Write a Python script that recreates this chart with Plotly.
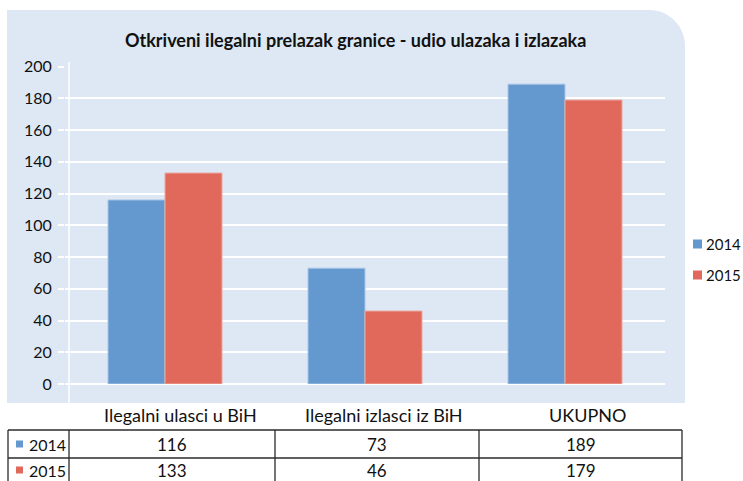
import plotly.graph_objects as go

# ---- data ----
categories = ["Ilegalni ulasci u BiH", "Ilegalni izlasci iz BiH", "UKUPNO"]
series_names = ["2014", "2015"]
values_2014 = [116, 73, 189]
values_2015 = [133, 46, 179]
y_ticks = [0, 20, 40, 60, 80, 100, 120, 140, 160, 180, 200]
title_text = "Otkriveni ilegalni prelazak granice - udio ulazaka i izlazaka"

# ---- styling ----
W, H = 743, 481
BLUE = "#6499D0"
RED = "#E0695C"
PANEL = "#DDE8F4"
FONT = "Lato"
TXT = "#111111"


def px(x):
    return x / W


def py(y):
    return 1 - y / H


fig = go.Figure()
colors = [BLUE, RED]
edge = ["#A9C5E6", "#EBA9A2"]
for name, vals, c, e in zip(series_names, [values_2014, values_2015], colors, edge):
    fig.add_trace(go.Bar(
        x=categories, y=vals, name=name,
        marker=dict(color=c, line=dict(color=e, width=1)),
        showlegend=False, hoverinfo="x+y+name",
    ))

shapes = []
# panel with rounded top-right corner
L, T, R, B, r = 7, 10, 685, 403, 36
k = 0.5523 * r
path = (f"M {px(L)},{py(B)} L {px(L)},{py(T)} L {px(R - r)},{py(T)} "
        f"C {px(R - r + k)},{py(T)} {px(R)},{py(T + r - k)} {px(R)},{py(T + r)} "
        f"L {px(R)},{py(B)} Z")
shapes.append(dict(type="path", path=path, xref="paper", yref="paper",
                   fillcolor=PANEL, line=dict(width=0), layer="below"))
# white vertical axis line
shapes.append(dict(type="line", xref="paper", yref="paper",
                   x0=px(69), x1=px(69), y0=py(62), y1=py(B),
                   line=dict(color="white", width=1.5), layer="below"))

# table grid
tbl_top, tbl_mid, tbl_bot = 430, 458, 486
col_x = [8, 69, 275, 479, 682]
line_style = dict(color="#2b2b2b", width=1.3)
for yy in (tbl_top, tbl_mid):
    shapes.append(dict(type="line", xref="paper", yref="paper",
                       x0=px(col_x[0]), x1=px(col_x[-1]), y0=py(yy), y1=py(yy),
                       line=line_style))
for xx in col_x:
    shapes.append(dict(type="line", xref="paper", yref="paper",
                       x0=px(xx), x1=px(xx), y0=py(tbl_top), y1=py(tbl_bot),
                       line=line_style))

annotations = []
# category labels above the table
cat_centers = [180, 384, 587]
for cat, cx in zip(categories, cat_centers):
    annotations.append(dict(text=cat, x=px(cx), y=py(415), xref="paper", yref="paper",
                            showarrow=False, xanchor="center", yanchor="middle",
                            font=dict(family=FONT, size=18, color=TXT)))

# table rows
row_centers = [444, 470]
for name, vals, c, ry in zip(series_names, [values_2014, values_2015], colors, row_centers):
    shapes.append(dict(type="rect", xref="paper", yref="paper",
                       x0=px(16), x1=px(23), y0=py(ry - 3.5), y1=py(ry + 3.5),
                       fillcolor=c, line=dict(width=0)))
    annotations.append(dict(text=name, x=px(27), y=py(ry), xref="paper", yref="paper",
                            showarrow=False, xanchor="left", yanchor="middle",
                            font=dict(family=FONT, size=16, color=TXT)))
    for i, v in enumerate(vals):
        cx = (col_x[i + 1] + col_x[i + 2]) / 2
        annotations.append(dict(text=str(v), x=px(cx), y=py(ry), xref="paper", yref="paper",
                                showarrow=False, xanchor="center", yanchor="middle",
                                font=dict(family=FONT, size=17, color=TXT)))

# legend (right side)
for name, c, ly in zip(series_names, colors, [244, 275]):
    shapes.append(dict(type="rect", xref="paper", yref="paper",
                       x0=px(693), x1=px(702), y0=py(ly - 4.5), y1=py(ly + 4.5),
                       fillcolor=c, line=dict(width=0)))
    annotations.append(dict(text=name, x=px(704), y=py(ly), xref="paper", yref="paper",
                            showarrow=False, xanchor="left", yanchor="middle",
                            font=dict(family=FONT, size=15, color=TXT)))

# title
annotations.append(dict(text="<b>" + title_text + "</b>", x=px(355), y=py(40),
                        xref="paper", yref="paper", showarrow=False,
                        xanchor="center", yanchor="middle",
                        font=dict(family=FONT, size=18, color=TXT)))

fig.update_layout(
    width=W, height=H,
    margin=dict(l=0, r=0, t=0, b=0, autoexpand=False),
    paper_bgcolor="white", plot_bgcolor="rgba(0,0,0,0)",
    barmode="group", bargap=0.43, bargroupgap=0,
    shapes=shapes, annotations=annotations,
    font=dict(family=FONT, size=16, color=TXT),
    xaxis=dict(domain=[px(65), px(665)], showticklabels=False, showgrid=False,
               zeroline=False, showline=False, ticks="", fixedrange=True),
    yaxis=dict(domain=[py(384), py(66.7)], range=[0, 200], tickvals=y_ticks,
               showgrid=True, gridcolor="white", gridwidth=2,
               zeroline=True, zerolinecolor="white", zerolinewidth=2,
               ticks="outside", ticklen=6, tickcolor="white", tickwidth=2,
               showline=False, automargin=False, ticklabelstandoff=3,
               tickfont=dict(family=FONT, size=16, color=TXT)),
)

fig.write_html("out.html", config={"displayModeBar": False},
               post_script="document.body.style.margin='0';document.body.style.overflow='hidden';")
